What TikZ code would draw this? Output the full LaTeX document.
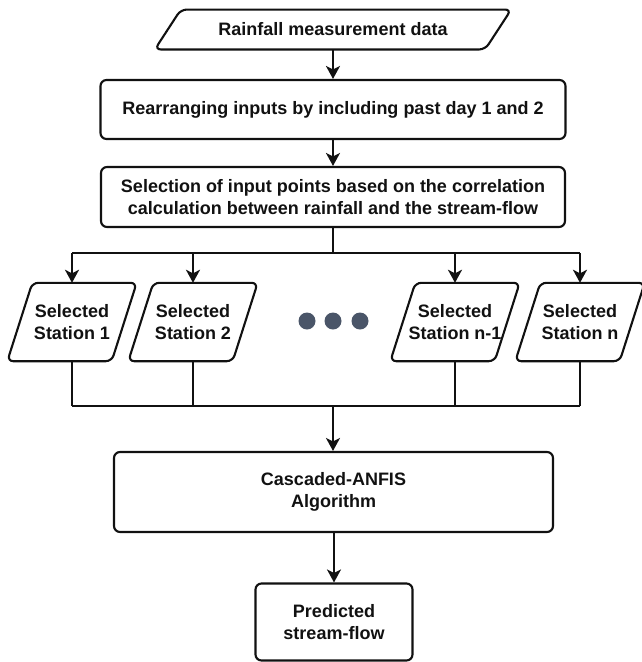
\documentclass[tikz,border=0pt]{standalone}
\usepackage{fontspec}
\setmainfont{Liberation Sans}
\usetikzlibrary{arrows.meta,calc}
\definecolor{dotc}{HTML}{4A5568}
\definecolor{ink}{HTML}{111111}
\begin{document}
\begin{tikzpicture}[x=1pt,y=-1pt,
  font=\fontsize{18}{22}\selectfont\bfseries, text=ink,
  box/.style={draw=ink, line width=2.1pt, rounded corners=6pt, align=center, inner sep=0pt},
  para/.style={inner sep=0pt, align=center},
  paraline/.style={draw=ink, line width=2.1pt, rounded corners=6pt},
  conn/.style={draw=ink, line width=2.1pt, -{Stealth[length=13pt,width=14pt,inset=3.5pt]}},
  bus/.style={draw=ink, line width=2.1pt},
  merge/.style={draw=ink, line width=1.6pt},
  dot/.style={circle, fill=dotc, minimum size=17pt, inner sep=0pt}]
\useasboundingbox (0,0) rectangle (641,662);
% top input
\node[para, minimum width=356pt, minimum height=39.5pt] (in) at (333,29.5) {Rainfall measurement data};
\draw[paraline] (in.south west) -- ($(in.south east)-(26,0)$) -- (in.north east) -- ($(in.north west)+(26,0)$) -- cycle;
% boxes
\node[box, minimum width=465pt, minimum height=59pt] (b2) at (333,109.5) {Rearranging inputs by including past day 1 and 2};
\node[box, minimum width=464pt, minimum height=60pt] (b3) at (333,197) {Selection of input points based on the correlation\\calculation between rainfall and the stream-flow};
\node[box, minimum width=439pt, minimum height=80pt] (b4) at (333.5,492) {Cascaded-ANFIS\\Algorithm};
\node[box, minimum width=157pt, minimum height=77pt] (b5) at (334,622) {Predicted\\stream-flow};
% stations
\node[para, minimum width=129pt, minimum height=78pt] (s1) at (72,322) {Selected\\Station 1};
\node[para, minimum width=129pt, minimum height=78pt] (s2) at (193,322) {Selected\\Station 2};
\node[para, minimum width=129pt, minimum height=78pt] (s3) at (455,322) {Selected\\Station n-1};
\node[para, minimum width=129pt, minimum height=78pt] (s4) at (580,322) {Selected\\Station n};
\foreach \s in {s1,s2,s3,s4}{
  \draw[paraline] (\s.south west) -- ($(\s.south east)-(25,0)$) -- (\s.north east) -- ($(\s.north west)+(25,0)$) -- cycle;
}
% dots
\node[dot] (d1) at (307,321) {};
\node[dot] (d2) at (333,321) {};
\node[dot] (d3) at (360,321) {};
% connectors
\draw[conn] (in.south) -- (in.south |- b2.north);
\draw[conn] (b2.south) -- (b3.north);
\coordinate (split) at (333,253);
\coordinate (join) at (333,406);
\draw[bus] (b3.south) -- (split);
\draw[bus] (s1.north |- split) -- (s4.north |- split);
\foreach \s in {s1,s2,s3,s4}{
  \draw[conn] (\s.north |- split) -- (\s.north);
  \draw[merge] (\s.south) -- (\s.south |- join);
}
\draw[merge] (s1.south |- join) -- (s4.south |- join);
\draw[conn] (join) -- (join |- b4.north);
\draw[conn] (b4.south -| b5.north) -- (b5.north);
\end{tikzpicture}
\end{document}
